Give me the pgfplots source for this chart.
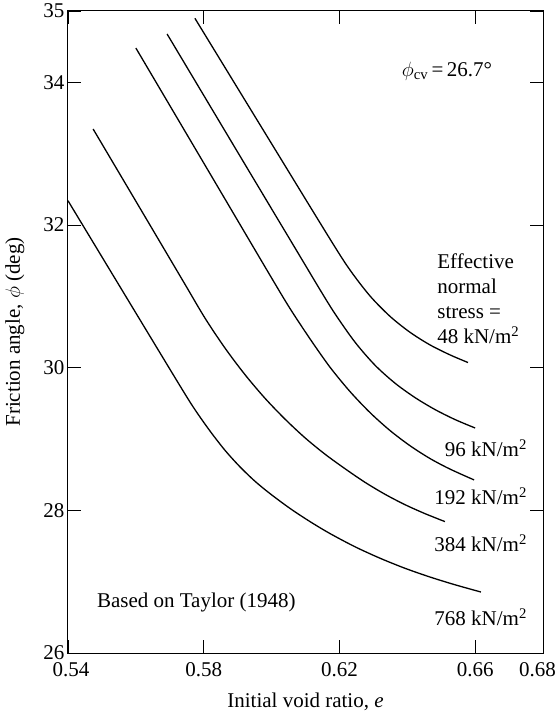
\documentclass[border=0pt]{standalone}
\usepackage{pgfplots}
\pgfplotsset{compat=1.18}
\usepackage{fontspec}
\setmainfont{Liberation Serif}
\newcommand{\bigf}{\fontsize{21bp}{25bp}\selectfont}
\begin{document}
\begin{tikzpicture}[font=\bigf]
\begin{axis}[
  at={(0,0)}, anchor=south west,
  scale only axis, width=475bp, height=642bp,
  xmin=0.54, xmax=0.68, ymin=26, ymax=35,
  xtick={0.54,0.58,0.62,0.66,0.68},
  xticklabels={\hspace*{6bp}0.54,0.58,0.62,0.66,\hspace*{-11bp}0.68},
  ytick={26,28,30,32,34,35},
  /pgf/number format/assume math mode=true,
  xticklabel style={yshift=-6bp},
  tick align=inside, major tick length=13bp,
  tick style={line width=0.8bp, black},
  axis line style={line width=1bp},
  tick label style={font=\bigf},
  label style={font=\bigf},
  xlabel={Initial void ratio, \textit{e}},
  ylabel={Friction angle, $\phi$ (deg)},
  xlabel style={at={(axis description cs:0.5,-0.076)}, anchor=center},
  ylabel style={at={(axis description cs:-0.112,0.5)}, anchor=center},
  clip=false,
]
% 768 kN/m2
\addplot[black, line width=1.3bp, smooth, tension=0.5] coordinates {
(0.5400,32.340) (0.5565,31.042) (0.5730,29.746) (0.5774,29.413) (0.5819,29.109)
(0.5863,28.840) (0.5907,28.609) (0.5951,28.408) (0.5995,28.236) (0.6054,28.028)
(0.6113,27.843) (0.6172,27.675) (0.6246,27.489) (0.6320,27.328) (0.6393,27.188)
(0.6467,27.065) (0.6541,26.956) (0.6617,26.855)};
% 384 kN/m2
\addplot[black, line width=1.3bp, smooth, tension=0.5] coordinates {
(0.5474,33.346) (0.5642,31.996) (0.5745,31.167) (0.5804,30.693) (0.5863,30.273)
(0.5922,29.900) (0.5981,29.569) (0.6040,29.277) (0.6098,29.019) (0.6157,28.789)
(0.6216,28.585) (0.6275,28.394) (0.6334,28.226) (0.6393,28.080) (0.6452,27.954)
(0.6511,27.842)};
% 192 kN/m2
\addplot[black, line width=1.3bp, smooth, tension=0.5] coordinates {
(0.5600,34.481) (0.5827,32.652) (0.5995,31.298) (0.6054,30.832) (0.6113,30.406)
(0.6172,30.008) (0.6231,29.666) (0.6290,29.371) (0.6349,29.119) (0.6408,28.906)
(0.6467,28.726) (0.6526,28.578) (0.6597,28.426)};
% 96 kN/m2
\addplot[black, line width=1.3bp, smooth, tension=0.5] coordinates {
(0.5692,34.678) (0.5907,32.966) (0.6084,31.560) (0.6143,31.091) (0.6187,30.755)
(0.6246,30.357) (0.6305,30.034) (0.6364,29.782) (0.6423,29.580) (0.6482,29.412)
(0.6541,29.272) (0.6600,29.154)};
% 48 kN/m2
\addplot[black, line width=1.3bp, smooth, tension=0.5] coordinates {
(0.5774,34.898) (0.5995,33.179) (0.6172,31.805) (0.6231,31.370) (0.6290,31.006)
(0.6349,30.720) (0.6408,30.496) (0.6467,30.319) (0.6526,30.179) (0.6579,30.072)};

\node[anchor=center] at (axis cs:0.6517,34.15) {$\phi_{\mathrm{cv}}$\,=\,26.7°};
\node[anchor=north west, align=left, inner sep=0pt] at (axis cs:0.6488,31.60) {Effective\\normal\\stress =\\48 kN/m\textsuperscript{2}};
\node[anchor=east, inner sep=0pt] at (axis cs:0.6753,28.87) {96 kN/m\textsuperscript{2}};
\node[anchor=east, inner sep=0pt] at (axis cs:0.6753,28.20) {192 kN/m\textsuperscript{2}};
\node[anchor=east, inner sep=0pt] at (axis cs:0.6753,27.54) {384 kN/m\textsuperscript{2}};
\node[anchor=east, inner sep=0pt] at (axis cs:0.6753,26.50) {768 kN/m\textsuperscript{2}};
\node[anchor=west, inner sep=0pt] at (axis cs:0.5485,26.71) {Based on Taylor (1948)};
\end{axis}
\pgfresetboundingbox
\path (-68bp,-64bp) rectangle (490bp,653bp);
\end{tikzpicture}
\end{document}
